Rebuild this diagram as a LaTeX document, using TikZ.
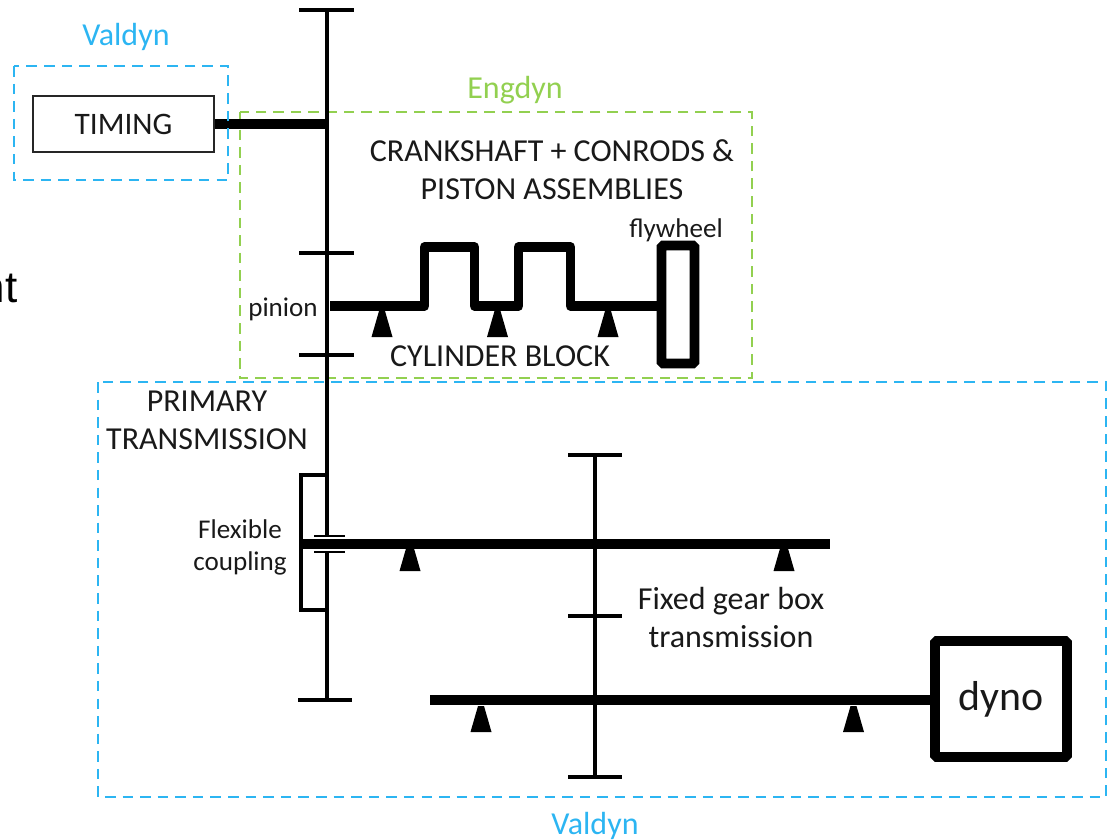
\documentclass[tikz,border=0pt]{standalone}
\usepackage{fontspec}
\setmainfont{Carlito}
\newfontfamily\arialfont{Liberation Sans}
\usepackage{xcolor}
\definecolor{valdyncol}{HTML}{2CB5F2}
\definecolor{engdyncol}{HTML}{92D050}
\newcommand{\labelsize}{\fontsize{9.1}{10.8}\selectfont}
\newcommand{\smallsize}{\fontsize{7.7}{9.1}\selectfont}
\tikzset{
  shaft/.style={line width=1.2pt},
  thickshaft/.style={line width=2.75pt,line join=round},
  valdynbox/.style={draw=valdyncol,densely dashed,line width=0.35pt},
  engdynbox/.style={draw=engdyncol,densely dashed,line width=0.35pt},
  lbl/.style={inner sep=0pt,align=center,text=black!90,font=\labelsize},
  pics/bearing/.style={code={\fill (-3,-26) -- (3,-26) -- (10.5,0) -- (-10.5,0) -- cycle;}}
}
\begin{document}
\begin{tikzpicture}[x=0.01cm,y=-0.01cm]
\useasboundingbox (0,0) rectangle (1107,839);
% domain frames
\draw[engdynbox] (240,112) rectangle (752,378);
\draw[valdynbox] (98,382) rectangle (1106,797);
% main shaft with its gears
\coordinate (camtop) at (327,10);
\coordinate (cambot) at (327,124);
\coordinate (mainbot) at (327,700);
\draw[shaft] (camtop) -- (mainbot);
\draw[shaft] (299,10) -- (354,10);
\draw[shaft] (299,253) -- (354,253);
\draw[shaft] (299,355) -- (354,355);
\draw[shaft] (298,700) -- (352,700);
% timing
\node[draw=black!85,line width=0.5pt,minimum width=181*0.01cm,minimum height=56*0.01cm,inner sep=0pt,font=\fontsize{8.9}{10.8}\selectfont,text=black!90] (timing) at (123.5,124) {TIMING\hspace{0.5pt}};
\draw[thickshaft] (timing.east) -- (cambot);
\draw[valdynbox] (14,66) rectangle (228,180);
% crankshaft
\node[draw,line width=2.75pt,rounded corners=0.5pt,minimum width=33*0.01cm,minimum height=118*0.01cm,inner sep=0pt] (flywheel) at (678,304.5) {};
\coordinate (crankstart) at (330,306);
\draw[thickshaft] (crankstart) -- (424.5,306) -- (424.5,247) -- (474.5,247) -- (474.5,306) -- (518.5,306) -- (518.5,247) -- (570.5,247) -- (570.5,306) -- (flywheel.west |- crankstart);
\pic at (382,337) {bearing};
\pic at (497.5,337) {bearing};
\pic at (608,337) {bearing};
% flexible coupling
\draw[shaft] (327,475) -- (301,475) -- (301,610) -- (327,610);
\fill[white] (317,537) rectangle (340,551);
\draw[line width=0.8pt] (314,536) -- (345,536);
\draw[line width=0.8pt] (314,552) -- (345,552);
% gear box shafts
\coordinate (inleft) at (301,544);
\coordinate (inright) at (830,544);
\draw[thickshaft] (inleft) -- (inright);
\pic at (410,571) {bearing};
\pic at (784,571) {bearing};
\coordinate (gbtop) at (595,455);
\coordinate (gbbot) at (595,777);
\draw[shaft] (gbtop) -- (gbbot);
\draw[shaft] (568,455) -- (622,455);
\draw[shaft] (568,616) -- (622,616);
\draw[shaft] (568,777) -- (622,777);
% dyno
\node[draw,line width=2.75pt,rounded corners=0.5pt,minimum width=132*0.01cm,minimum height=116*0.01cm,inner sep=0pt,font=\fontsize{11.9}{14}\selectfont,text=black!90] (dyno) at (1001,699) {dyno\hspace{1.5pt}};
\coordinate (outleft) at (430,700);
\draw[thickshaft] (outleft) -- (dyno.west |- outleft);
\pic at (481,732) {bearing};
\pic at (853.5,732) {bearing};
% labels
\node[lbl,text=valdyncol] (valdyntop) at (126,37) {Valdyn};
\node[lbl,text=engdyncol] (engdyn) at (515,90) {Engdyn};
\node[lbl,text=valdyncol] (valdynbot) at (595,826) {Valdyn};
\node[lbl] (crank) at (552,170) {CRANKSHAFT + CONRODS \&\\PISTON ASSEMBLIES};
\node[lbl,font=\smallsize] (flylabel) at (676,230) {flywheel};
\node[lbl,font=\smallsize] (pinion) at (283,309) {pinion};
\node[lbl] (block) at (500,356) {CYLINDER BLOCK};
\node[lbl] (primary) at (207,420.5) {PRIMARY\\TRANSMISSION};
\node[lbl,font=\smallsize] (flex) at (240,547) {Flexible\\coupling};
\node[lbl] (fixed) at (731,617) {Fixed gear box\\transmission};
\node[inner sep=0pt,anchor=east,font=\arialfont\fontsize{12.5}{15}\selectfont] (cut) at (18,288) {nt};
\end{tikzpicture}
\end{document}
